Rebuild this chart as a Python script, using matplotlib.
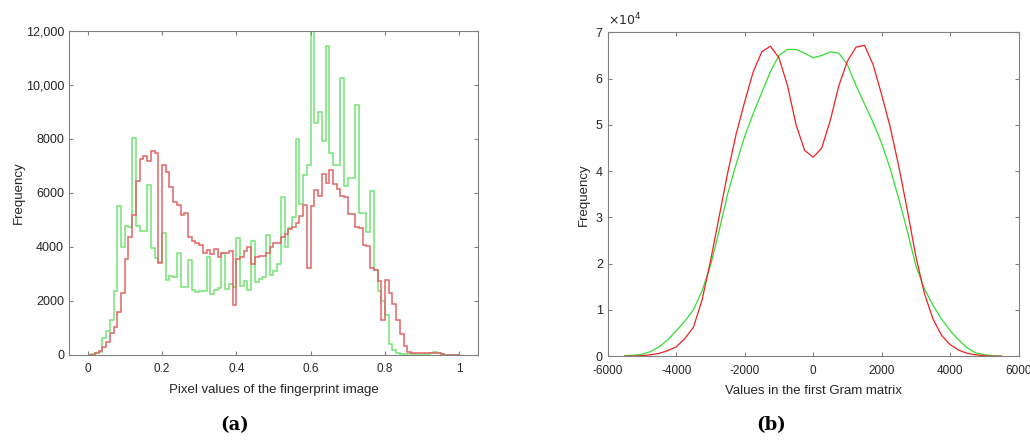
import numpy as np
import matplotlib
matplotlib.use("Agg")
import matplotlib.pyplot as plt
from matplotlib.ticker import FuncFormatter

plt.rcParams['font.family'] = ['Liberation Sans', 'DejaVu Sans']
plt.rcParams['axes.unicode_minus'] = False

# (a) histogram of pixel values, 100 bins of width 0.01
edges_a = np.linspace(0, 1, 101)
green_a = [0, 30, 50, 120, 620, 900, 1300, 2350, 5500, 3980,
           4780, 4720, 8020, 4790, 4600, 4600, 6300, 3950, 3580, 3450,
           4500, 2780, 2930, 2880, 3790, 2500, 2500, 3520, 2410, 2330,
           2350, 2380, 3610, 2240, 2400, 2470, 3770, 2450, 2620, 2530,
           4320, 2560, 2720, 2410, 4220, 2690, 2820, 2900, 4450, 2960,
           3090, 3350, 5840, 4010, 4690, 5090, 8000, 5580, 6670, 7040,
           12500, 8580, 8990, 7930, 11460, 7470, 7040, 7040, 10250, 6260,
           6550, 6550, 9260, 5270, 5270, 4570, 6080, 3150, 2380, 1980,
           1480, 395, 185, 60, 30, 30, 30, 30, 30, 30,
           30, 40, 80, 90, 60, 20, 10, 10, 5, 0]
red_a = [0, 0, 60, 150, 285, 490, 800, 1050, 1600, 2280,
         3540, 4380, 5200, 6440, 7240, 7370, 7170, 7560, 7470, 3420,
         7050, 6770, 6210, 5650, 5560, 5170, 5270, 4380, 4220, 4160,
         4080, 3770, 3890, 3730, 3930, 3610, 3790, 3790, 3830, 1850,
         3540, 3640, 3850, 3980, 3360, 3640, 3680, 3680, 3770, 3980,
         4140, 4160, 4380, 4470, 4670, 4750, 4900, 5150, 5560, 3200,
         5500, 6090, 5880, 6700, 6360, 6840, 6340, 6140, 5880, 5860,
         5230, 5230, 4750, 4710, 4060, 4040, 3210, 3150, 2740, 1300,
         2780, 2280, 1870, 1300, 770, 340, 110, 60, 60, 60,
         60, 60, 60, 80, 60, 30, 10, 10, 5, 0]

# (b) histogram of Gram matrix values (x 10^4)
x_b = np.arange(-5500, 5501, 250)
red_b = [0, 0, 0.01, 0.03, 0.06, 0.12, 0.2, 0.38, 0.62, 1.2,
         2.05, 3.0, 3.95, 4.8, 5.5, 6.15, 6.58, 6.7, 6.45, 5.85,
         5.0, 4.45, 4.3, 4.5, 5.1, 5.85, 6.38, 6.68, 6.72, 6.3,
         5.65, 4.95, 4.1, 3.15, 2.15, 1.35, 0.8, 0.45, 0.25, 0.13,
         0.06, 0.03, 0.01, 0, 0]
green_b = [0.01, 0.02, 0.04, 0.1, 0.2, 0.35, 0.55, 0.75, 1.0, 1.4,
           1.95, 2.7, 3.5, 4.15, 4.75, 5.25, 5.7, 6.15, 6.5, 6.63,
           6.63, 6.55, 6.45, 6.5, 6.58, 6.55, 6.3, 5.85, 5.45, 5.05,
           4.6, 4.05, 3.4, 2.7, 1.95, 1.45, 1.1, 0.8, 0.55, 0.35,
           0.18, 0.07, 0.03, 0.01, 0]

gray = '#808080'
txt = '#262626'

fig = plt.figure(figsize=(10.3, 4.43), dpi=100)
ax1 = fig.add_axes([0.067, 0.199, 0.397, 0.731])
ax2 = fig.add_axes([0.590, 0.196, 0.399, 0.731])

ax1.stairs(green_a, edges_a, color='#74e474', lw=1.1)
ax1.stairs(red_a, edges_a, color='#e26464', lw=1.1)
ax1.set_xlim(-0.05, 1.05)
ax1.set_ylim(0, 12000)
ax1.set_xticks([0, 0.2, 0.4, 0.6, 0.8, 1])
ax1.set_xticklabels(['0', '0.2', '0.4', '0.6', '0.8', '1'])
ax1.set_yticks(np.arange(0, 12001, 2000))
ax1.yaxis.set_major_formatter(FuncFormatter(
    lambda v, p: '{:,}'.format(int(v)) if v >= 10000 else str(int(v))))
ax1.set_xlabel('Pixel values of the fingerprint image', fontsize=9.5,
               color=txt, labelpad=6)
ax1.set_ylabel('Frequency', fontsize=9.5, color=txt, labelpad=1)

ax2.plot(x_b, green_b, color='#33dd33', lw=0.9)
ax2.plot(x_b, red_b, color='#f02020', lw=0.9)
ax2.set_xlim(-6000, 6000)
ax2.set_ylim(0, 7)
ax2.set_xticks(np.arange(-6000, 6001, 2000))
ax2.set_yticks(np.arange(0, 8, 1))
ax2.set_xlabel('Values in the first Gram matrix', fontsize=9.5,
               color=txt, labelpad=6)
ax2.set_ylabel('Frequency', fontsize=9.5, color=txt, labelpad=4)
ax2.text(0.0, 1.012, r'$\times10^4$', transform=ax2.transAxes,
         fontsize=9, color=txt, ha='left', va='bottom')

for ax in (ax1, ax2):
    for s in ax.spines.values():
        s.set_color(gray)
        s.set_linewidth(0.8)
    ax.tick_params(direction='in', length=3, width=0.8, color=gray,
                   top=True, right=True, labelcolor=txt, labelsize=9)
    ax.tick_params(axis='x', pad=6, labelsize=8.5)

fig.text(0.228, 0.04, '(a)', fontsize=13, family='DejaVu Serif',
         weight='bold', ha='center', va='center')
fig.text(0.749, 0.04, '(b)', fontsize=13, family='DejaVu Serif',
         weight='bold', ha='center', va='center')

fig.savefig('out.png', dpi=100)
